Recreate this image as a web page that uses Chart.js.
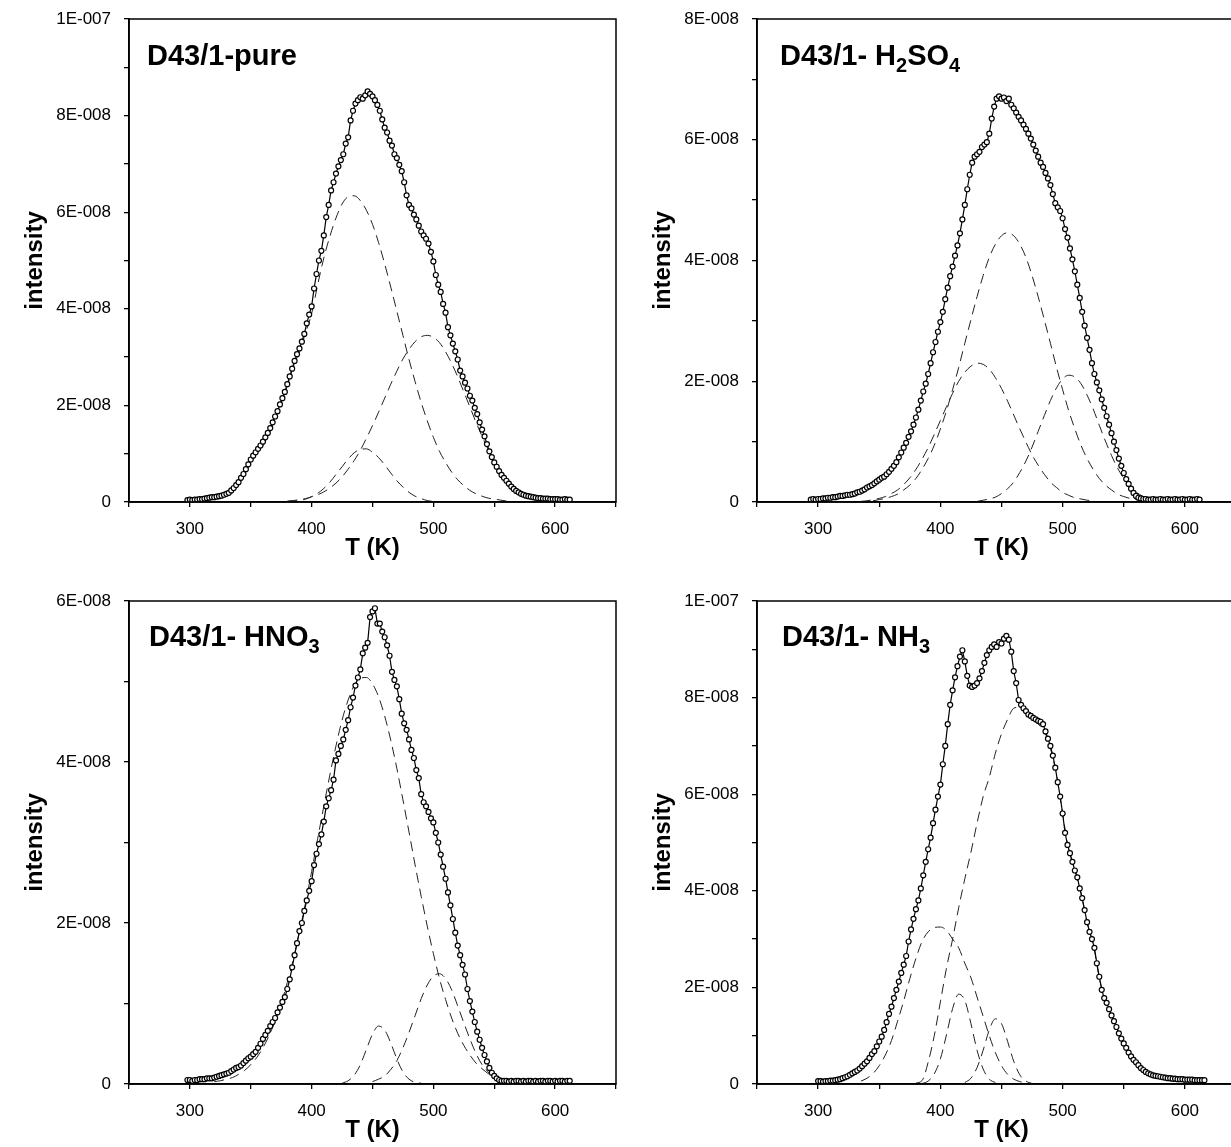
<!DOCTYPE html>
<html>
<head>
<meta charset="utf-8">
<script src="https://cdn.jsdelivr.net/npm/chart.js@4.4.1/dist/chart.umd.min.js"></script>
<style>
  html, body { margin: 0; padding: 0; background: #fff; overflow: hidden; width: 1231px; height: 1147px; }
  .panel { position: absolute; }
  .rotulo { position: absolute; z-index: 2; font: bold 29px 'Liberation Sans', Arial, sans-serif; color: #000; white-space: nowrap; line-height: 1; }
  .rotulo sub { font-size: 20px; vertical-align: -7px; line-height: 0; }
</style>
</head>
<body>
<canvas id="chartPure" class="panel" width="640" height="575" style="left:0;top:0"></canvas>
<canvas id="chartH2SO4" class="panel" width="640" height="575" style="left:628px;top:0"></canvas>
<canvas id="chartHNO3" class="panel" width="640" height="575" style="left:0;top:582px"></canvas>
<canvas id="chartNH3" class="panel" width="640" height="575" style="left:628px;top:582px"></canvas>

<div class="rotulo" style="left:147px;top:41px">D43/1-pure</div>
<div class="rotulo" style="left:780px;top:41px">D43/1- H<sub>2</sub>SO<sub>4</sub></div>
<div class="rotulo" style="left:149px;top:622px">D43/1- HNO<sub>3</sub></div>
<div class="rotulo" style="left:782px;top:622px">D43/1- NH<sub>3</sub></div>

<script>
'use strict';

// ── Datos medidos (intensidad en unidades de 1E-008) ───────────
const dataTemp = [
    294, 296, 298, 300, 302, 304, 306, 308, 310, 312,
    314, 316, 318, 320, 322, 324, 326, 328, 330, 332,
    334, 336, 338, 340, 342, 344, 346, 348, 350, 352,
    354, 356, 358, 360, 362, 364, 366, 368, 370, 372,
    374, 376, 378, 380, 382, 384, 386, 388, 390, 392,
    394, 396, 398, 400, 402, 404, 406, 408, 410, 412,
    414, 416, 418, 420, 422, 424, 426, 428, 430, 432,
    434, 436, 438, 440, 442, 444, 446, 448, 450, 452,
    454, 456, 458, 460, 462, 464, 466, 468, 470, 472,
    474, 476, 478, 480, 482, 484, 486, 488, 490, 492,
    494, 496, 498, 500, 502, 504, 506, 508, 510, 512,
    514, 516, 518, 520, 522, 524, 526, 528, 530, 532,
    534, 536, 538, 540, 542, 544, 546, 548, 550, 552,
    554, 556, 558, 560, 562, 564, 566, 568, 570, 572,
    574, 576, 578, 580, 582, 584, 586, 588, 590, 592,
    594, 596, 598, 600, 602, 604, 606, 608, 610, 612,
    614, 616
];

const intPure = [
    null, null, 0.04, 0.05, 0.04, 0.05, 0.05, 0.06, 0.06, 0.07,
    0.08, 0.09, 0.1, 0.1, 0.11, 0.12, 0.13, 0.15, 0.17, 0.19,
    0.24, 0.29, 0.35, 0.41, 0.5, 0.58, 0.68, 0.78, 0.88, 0.96,
    1.03, 1.1, 1.17, 1.25, 1.34, 1.43, 1.53, 1.65, 1.77, 1.88,
    2.02, 2.15, 2.28, 2.44, 2.6, 2.76, 2.92, 3.06, 3.18, 3.32,
    3.48, 3.7, 3.88, 4.05, 4.42, 4.72, 5.0, 5.2, 5.52, 5.9,
    6.15, 6.45, 6.62, 6.8, 6.95, 7.08, 7.2, 7.42, 7.55, 7.9,
    8.1, 8.25, 8.32, 8.38, 8.35, 8.42, 8.5, 8.45, 8.4, 8.32,
    8.22, 8.1, 7.92, 7.75, 7.65, 7.48, 7.38, 7.2, 7.12, 6.98,
    6.85, 6.62, 6.35, 6.15, 6.08, 5.95, 5.85, 5.72, 5.6, 5.52,
    5.45, 5.35, 5.18, 4.98, 4.7, 4.5, 4.35, 4.1, 3.92, 3.62,
    3.45, 3.28, 3.12, 2.95, 2.72, 2.6, 2.47, 2.35, 2.2, 2.1,
    1.95, 1.82, 1.65, 1.5, 1.36, 1.2, 1.05, 0.93, 0.82, 0.73,
    0.64, 0.56, 0.5, 0.44, 0.38, 0.32, 0.27, 0.23, 0.2, 0.17,
    0.15, 0.13, 0.12, 0.11, 0.1, 0.09, 0.08, 0.08, 0.07, 0.07,
    0.07, 0.06, 0.06, 0.06, 0.06, 0.05, 0.05, 0.06, 0.05, 0.05,
    null, null
];

const intH2SO4 = [
    0.04, 0.05, 0.04, 0.05, 0.05, 0.06, 0.06, 0.07, 0.07, 0.08,
    0.08, 0.09, 0.1, 0.1, 0.11, 0.12, 0.12, 0.13, 0.14, 0.16,
    0.17, 0.19, 0.21, 0.24, 0.26, 0.28, 0.31, 0.34, 0.37, 0.4,
    0.42, 0.46, 0.5, 0.55, 0.6, 0.66, 0.74, 0.82, 0.9, 0.98,
    1.08, 1.17, 1.28, 1.4, 1.53, 1.68, 1.83, 1.96, 2.12, 2.3,
    2.48, 2.65, 2.82, 2.98, 3.15, 3.36, 3.55, 3.74, 3.9, 4.08,
    4.25, 4.45, 4.68, 4.92, 5.18, 5.42, 5.62, 5.72, 5.76, 5.8,
    5.88, 5.92, 5.96, 6.1, 6.35, 6.55, 6.68, 6.72, 6.68, 6.7,
    6.64, 6.68, 6.58, 6.52, 6.45, 6.38, 6.32, 6.25, 6.18, 6.1,
    6.02, 5.92, 5.82, 5.72, 5.62, 5.55, 5.45, 5.36, 5.25, 5.1,
    4.95, 4.88, 4.82, 4.7, 4.52, 4.38, 4.2, 4.02, 3.82, 3.6,
    3.38, 3.15, 2.92, 2.72, 2.52, 2.3, 2.12, 1.98, 1.85, 1.7,
    1.56, 1.42, 1.28, 1.14, 1.0, 0.86, 0.72, 0.6, 0.48, 0.38,
    0.3, 0.22, 0.15, 0.1, 0.07, 0.06, 0.05, 0.05, 0.04, 0.04,
    0.05, 0.04, 0.04, 0.05, 0.04, 0.04, 0.05, 0.04, 0.04, 0.05,
    0.04, 0.04, 0.05, 0.04, 0.04, 0.05, 0.04, 0.04, 0.05, 0.04,
    null, null
];

const intHNO3 = [
    null, null, 0.05, 0.05, 0.04, 0.05, 0.05, 0.06, 0.06, 0.06,
    0.07, 0.07, 0.07, 0.08, 0.09, 0.1, 0.11, 0.12, 0.13, 0.14,
    0.16, 0.18, 0.2, 0.21, 0.23, 0.26, 0.29, 0.32, 0.34, 0.37,
    0.4, 0.45, 0.5, 0.56, 0.61, 0.66, 0.72, 0.77, 0.82, 0.89,
    0.95, 1.02, 1.08, 1.18, 1.3, 1.45, 1.6, 1.75, 1.9, 2.0,
    2.15, 2.28, 2.4, 2.52, 2.72, 2.86, 2.98, 3.1, 3.26, 3.45,
    3.55, 3.65, 3.78, 4.02, 4.1, 4.2, 4.28, 4.4, 4.52, 4.68,
    4.8, 4.95, 5.05, 5.15, 5.35, 5.42, 5.48, 5.8, 5.87, 5.91,
    5.72, 5.72, 5.62, 5.55, 5.45, 5.32, 5.12, 5.02, 4.94, 4.78,
    4.6, 4.48, 4.4, 4.28, 4.15, 4.05, 3.9, 3.8, 3.6, 3.5,
    3.45, 3.38, 3.3, 3.25, 3.12, 3.0, 2.85, 2.7, 2.55, 2.38,
    2.22, 2.05, 1.88, 1.72, 1.6, 1.48, 1.36, 1.18, 1.03, 0.9,
    0.77, 0.65, 0.55, 0.45, 0.36, 0.28, 0.2, 0.14, 0.1, 0.07,
    0.05, 0.04, 0.04, 0.04, 0.03, 0.04, 0.03, 0.04, 0.04, 0.03,
    0.04, 0.03, 0.04, 0.04, 0.03, 0.04, 0.03, 0.04, 0.04, 0.03,
    0.04, 0.04, 0.03, 0.04, 0.03, 0.04, 0.04, 0.03, 0.04, 0.04,
    null, null
];

const intNH3 = [
    null, null, null, 0.06, 0.06, 0.05, 0.06, 0.06, 0.07, 0.07,
    0.08, 0.09, 0.1, 0.12, 0.14, 0.16, 0.19, 0.22, 0.25, 0.28,
    0.32, 0.37, 0.42, 0.47, 0.54, 0.62, 0.68, 0.78, 0.88, 0.98,
    1.12, 1.28, 1.45, 1.6, 1.78, 1.95, 2.12, 2.3, 2.47, 2.65,
    2.95, 3.2, 3.42, 3.62, 3.8, 4.05, 4.32, 4.6, 4.86, 5.1,
    5.4, 5.68, 5.95, 6.2, 6.62, 7.0, 7.45, 7.85, 8.15, 8.42,
    8.65, 8.85, 8.98, 8.75, 8.45, 8.25, 8.22, 8.25, 8.3, 8.4,
    8.55, 8.72, 8.88, 8.98, 9.05, 9.1, 9.05, 9.15, 9.12, 9.22,
    9.28, 9.2, 8.95, 8.55, 8.3, 7.95, 7.85, 7.78, 7.72, 7.65,
    7.62, 7.58, 7.55, 7.52, 7.5, 7.45, 7.3, 7.15, 7.0, 6.8,
    6.55, 6.25, 5.95, 5.6, 5.2, 4.95, 4.78, 4.6, 4.42, 4.28,
    4.05, 3.85, 3.6, 3.35, 3.15, 3.0, 2.82, 2.5, 2.22, 1.95,
    1.78, 1.68, 1.55, 1.42, 1.3, 1.18, 1.05, 0.94, 0.84, 0.75,
    0.65, 0.57, 0.5, 0.45, 0.39, 0.33, 0.29, 0.25, 0.22, 0.2,
    0.18, 0.17, 0.16, 0.15, 0.14, 0.13, 0.12, 0.12, 0.11, 0.11,
    0.1, 0.1, 0.1, 0.09, 0.09, 0.09, 0.09, 0.08, 0.08, 0.08,
    0.08, 0.08
];

// ── Componentes del ajuste (líneas discontinuas) ──────────────
const compTemp = [
    300, 305, 310, 315, 320, 325, 330, 335, 340, 345,
    350, 355, 360, 365, 370, 375, 380, 385, 390, 395,
    400, 405, 410, 415, 420, 425, 430, 435, 440, 445,
    450, 455, 460, 465, 470, 475, 480, 485, 490, 495,
    500, 505, 510, 515, 520, 525, 530, 535, 540, 545,
    550, 555, 560, 565, 570, 575, 580, 585, 590, 595,
    600
];

const purePico1 = [
    0.03, 0.04, 0.05, 0.06, 0.08, 0.1, 0.15, 0.25, 0.38, 0.58,
    0.82, 1.0, 1.17, 1.42, 1.72, 2.05, 2.4, 2.8, 3.12, 3.5,
    3.9, 4.5, 5.05, 5.5, 5.88, 6.17, 6.32, 6.34, 6.24, 6.04,
    5.75, 5.37, 4.93, 4.45, 3.95, 3.45, 2.95, 2.49, 2.06, 1.68,
    1.34, 1.05, 0.82, 0.62, 0.46, 0.34, 0.24, 0.17, 0.12, 0.08,
    0.06, 0.04, 0.02, null, null, null, null, null, null, null,
    null
];
const purePico2 = [
    null, null, null, null, null, null, null, null, null, null,
    null, null, null, null, null, null, 0.02, 0.03, 0.05, 0.07,
    0.11, 0.15, 0.21, 0.29, 0.39, 0.52, 0.68, 0.86, 1.07, 1.32,
    1.58, 1.86, 2.15, 2.44, 2.71, 2.96, 3.16, 3.32, 3.42, 3.45,
    3.41, 3.3, 3.11, 2.87, 2.59, 2.28, 1.97, 1.65, 1.36, 1.09,
    0.86, 0.66, 0.5, 0.36, 0.26, 0.18, 0.13, 0.08, 0.05, 0.03,
    0.02
];
const purePico3 = [
    null, null, null, null, null, null, null, null, null, null,
    null, null, null, null, null, null, 0.01, 0.02, 0.03, 0.06,
    0.11, 0.18, 0.28, 0.41, 0.57, 0.73, 0.89, 1.02, 1.09, 1.1,
    1.03, 0.92, 0.77, 0.6, 0.44, 0.31, 0.2, 0.12, 0.07, 0.03,
    0.01, null, null, null, null, null, null, null, null, null,
    null, null, null, null, null, null, null, null, null, null,
    null
];

const h2so4Pico1 = [
    null, null, null, null, null, null, null, null, null, 0.02,
    0.04, 0.06, 0.09, 0.13, 0.2, 0.28, 0.39, 0.54, 0.72, 0.94,
    1.21, 1.51, 1.86, 2.23, 2.63, 3.02, 3.4, 3.75, 4.05, 4.27,
    4.41, 4.46, 4.41, 4.27, 4.05, 3.75, 3.4, 3.02, 2.63, 2.23,
    1.86, 1.51, 1.21, 0.94, 0.72, 0.54, 0.39, 0.28, 0.2, 0.13,
    0.09, 0.06, 0.04, 0.02, null, null, null, null, null, null,
    null
];
const h2so4Pico2 = [
    null, null, null, null, null, null, null, 0.01, 0.02, 0.04,
    0.06, 0.09, 0.14, 0.2, 0.29, 0.4, 0.54, 0.71, 0.9, 1.12,
    1.35, 1.58, 1.8, 2.0, 2.15, 2.25, 2.3, 2.28, 2.2, 2.06,
    1.88, 1.67, 1.44, 1.21, 0.99, 0.78, 0.61, 0.46, 0.33, 0.24,
    0.16, 0.11, 0.07, 0.05, 0.03, 0.02, null, null, null, null,
    null, null, null, null, null, null, null, null, null, null,
    null
];
const h2so4Pico3 = [
    null, null, null, null, null, null, null, null, null, null,
    null, null, null, null, null, null, null, null, null, null,
    null, null, null, null, null, null, 0.01, 0.03, 0.05, 0.08,
    0.14, 0.22, 0.33, 0.49, 0.68, 0.91, 1.17, 1.43, 1.68, 1.89,
    2.04, 2.1, 2.07, 1.96, 1.77, 1.54, 1.27, 1.01, 0.77, 0.56,
    0.39, 0.26, 0.17, 0.1, 0.06, 0.03, null, null, null, null,
    null
];

const hno3Pico1 = [
    null, null, null, null, 0.03, 0.04, 0.06, 0.08, 0.12, 0.17,
    0.24, 0.33, 0.45, 0.6, 0.78, 1.0, 1.26, 1.55, 1.89, 2.25,
    2.64, 3.05, 3.45, 3.84, 4.2, 4.52, 4.77, 4.95, 5.04, 5.05,
    4.97, 4.81, 4.57, 4.27, 3.92, 3.53, 3.13, 2.72, 2.33, 1.96,
    1.62, 1.31, 1.05, 0.82, 0.63, 0.48, 0.36, 0.26, 0.19, 0.13,
    0.09, 0.06, 0.04, 0.02, null, null, null, null, null, null,
    null
];
const hno3Pico2 = [
    null, null, null, null, null, null, null, null, null, null,
    null, null, null, null, null, null, null, null, null, null,
    null, null, null, null, null, 0.01, 0.04, 0.11, 0.24, 0.43,
    0.62, 0.72, 0.67, 0.51, 0.31, 0.15, 0.06, 0.02, 0.01, null,
    null, null, null, null, null, null, null, null, null, null,
    null, null, null, null, null, null, null, null, null, null,
    null
];
const hno3Pico3 = [
    null, null, null, null, null, null, null, null, null, null,
    null, null, null, null, null, null, null, null, null, null,
    null, null, null, null, null, null, null, null, null, null,
    0.03, 0.06, 0.1, 0.18, 0.29, 0.45, 0.64, 0.85, 1.06, 1.23,
    1.34, 1.37, 1.31, 1.17, 0.97, 0.76, 0.56, 0.38, 0.24, 0.15,
    0.08, 0.04, 0.02, null, null, null, null, null, null, null,
    null
];

const nh3Pico1 = [
    null, null, null, null, null, null, null, null, null, null,
    null, null, null, null, null, null, 0.02, 0.07, 0.45, 1.0,
    1.7, 2.4, 3.0, 3.65, 4.25, 4.8, 5.4, 5.95, 6.35, 6.85,
    7.25, 7.55, 7.78, 7.8, 7.65, 7.55, 7.45, 7.3, 6.95, 6.4,
    5.6, 4.85, 4.45, 3.95, 3.35, 2.9, 2.2, 1.72, 1.42, 1.12,
    0.82, 0.6, 0.44, 0.3, 0.21, 0.15, 0.11, 0.08, 0.06, 0.05,
    0.04
];
const nh3Pico2 = [
    null, null, null, null, null, null, null, 0.06, 0.12, 0.22,
    0.38, 0.6, 0.9, 1.3, 1.72, 2.18, 2.6, 2.95, 3.15, 3.24,
    3.25, 3.18, 3.0, 2.82, 2.5, 2.2, 1.8, 1.4, 1.0, 0.65,
    0.38, 0.2, 0.1, 0.05, 0.02, null, null, null, null, null,
    null, null, null, null, null, null, null, null, null, null,
    null, null, null, null, null, null, null, null, null, null,
    null
];
const nh3Pico3 = [
    null, null, null, null, null, null, null, null, null, null,
    null, null, null, null, null, null, null, 0.01, 0.06, 0.21,
    0.52, 1.02, 1.56, 1.86, 1.73, 1.25, 0.7, 0.31, 0.1, 0.03,
    null, null, null, null, null, null, null, null, null, null,
    null, null, null, null, null, null, null, null, null, null,
    null, null, null, null, null, null, null, null, null, null,
    null
];
const nh3Pico4 = [
    null, null, null, null, null, null, null, null, null, null,
    null, null, null, null, null, null, null, null, null, null,
    null, null, null, null, 0.03, 0.12, 0.34, 0.7, 1.12, 1.35,
    1.25, 0.88, 0.47, 0.19, 0.06, 0.01, null, null, null, null,
    null, null, null, null, null, null, null, null, null, null,
    null, null, null, null, null, null, null, null, null, null,
    null
];

// ── Etiquetas de los ejes ──────────────────────────────────────
const xTickValues = [300, 400, 500, 600];
const xTickLabels = ['300', '400', '500', '600'];
const yLabels1E7 = ['0', '2E-008', '4E-008', '6E-008', '8E-008', '1E-007'];
const yLabels8E8 = ['0', '2E-008', '4E-008', '6E-008', '8E-008'];
const yLabels6E8 = ['0', '2E-008', '4E-008', '6E-008'];

Chart.defaults.font.family = "'Liberation Sans', Arial, sans-serif";
Chart.defaults.color = '#000';

// Marco negro alrededor del área del gráfico
const marco = {
    id: 'marco',
    afterDatasetsDraw(chart) {
        const { ctx, chartArea: a } = chart;
        ctx.save();
        ctx.strokeStyle = '#000';
        ctx.lineWidth = 1.5;
        ctx.strokeRect(a.left, a.top, a.right - a.left, a.bottom - a.top);
        ctx.restore();
    }
};

function puntos(xs, ys) {
    return xs.map((x, i) => ({ x: x, y: ys[i] })).filter(p => p.y !== null);
}

function crearPanel(id, medidos, componentes, yMax, yLabels, padDerecha) {
    const datasets = [{
        data: puntos(dataTemp, medidos),
        showLine: true,
        borderColor: '#000',
        borderWidth: 1.2,
        pointRadius: 2.5,
        pointBackgroundColor: '#fff',
        pointBorderColor: '#000',
        pointBorderWidth: 1.2
    }];

    componentes.forEach(comp => {
        datasets.push({
            data: puntos(compTemp, comp),
            showLine: true,
            borderColor: '#222',
            borderWidth: 1,
            borderDash: [10, 6],
            pointRadius: 0,
            cubicInterpolationMode: 'monotone'
        });
    });

    const ejeGrid = { drawOnChartArea: false, drawTicks: true, tickLength: 5, color: '#000', lineWidth: 1.3 };
    const ejeBorde = { display: true, color: '#000', width: 1.7 };

    new Chart(document.getElementById(id), {
        type: 'scatter',
        data: { datasets: datasets },
        options: {
            responsive: false,
            animation: false,
            events: [],
            layout: { padding: { top: 19, right: padDerecha, left: 0, bottom: 0 } },
            plugins: { legend: { display: false }, tooltip: { enabled: false } },
            scales: {
                x: {
                    type: 'linear',
                    min: 250,
                    max: 650,
                    afterFit: s => { s.height = 73; s.paddingLeft = 0; s.paddingRight = 0; },
                    border: ejeBorde,
                    grid: ejeGrid,
                    ticks: {
                        stepSize: 50,
                        padding: 12,
                        autoSkip: false,
                        maxRotation: 0,
                        font: { size: 17 },
                        callback: v => {
                            const i = xTickValues.indexOf(v);
                            return i >= 0 ? xTickLabels[i] : '';
                        }
                    },
                    title: { display: true, text: 'T (K)', font: { size: 24, weight: 'bold' }, padding: { top: 0, bottom: 12 } }
                },
                y: {
                    min: 0,
                    max: yMax,
                    // ancho fijo y sin relleno extra para que el área quede donde en la figura
                    afterFit: s => { s.width = 129; s.paddingTop = 0; s.paddingBottom = 0; },
                    border: ejeBorde,
                    grid: ejeGrid,
                    ticks: {
                        stepSize: 1,
                        padding: 13,
                        autoSkip: false,
                        font: { size: 17 },
                        callback: v => (v % 2 === 0 ? yLabels[v / 2] : '')
                    },
                    title: { display: true, text: 'intensity', font: { size: 24, weight: 'bold' }, padding: { top: 21, bottom: 0 } }
                }
            }
        },
        plugins: [marco]
    });
}

crearPanel('chartPure', intPure, [purePico1, purePico2, purePico3], 10, yLabels1E7, 24);
crearPanel('chartH2SO4', intH2SO4, [h2so4Pico1, h2so4Pico2, h2so4Pico3], 8, yLabels8E8, 22);
crearPanel('chartHNO3', intHNO3, [hno3Pico1, hno3Pico2, hno3Pico3], 6, yLabels6E8, 24);
crearPanel('chartNH3', intNH3, [nh3Pico1, nh3Pico2, nh3Pico3, nh3Pico4], 10, yLabels1E7, 22);
</script>
</body>
</html>
